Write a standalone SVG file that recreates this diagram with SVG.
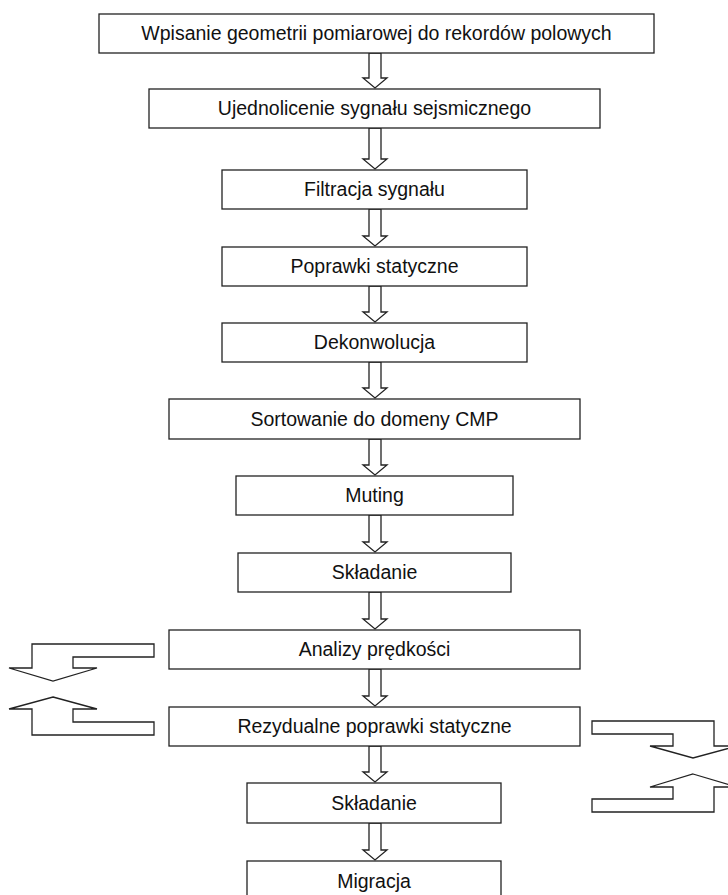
<svg xmlns="http://www.w3.org/2000/svg" width="728" height="895" viewBox="0 0 728 895">
<style>
.box{fill:#fff;stroke:#222;stroke-width:1.3}
.arr{fill:#fff;stroke:#222;stroke-width:1.3;stroke-linejoin:miter}
.t{font-family:"Liberation Sans",Arial,sans-serif;font-size:19.5px;fill:#111;text-anchor:middle}
</style>
<rect width="728" height="895" fill="#fff"/>
<g id="connectors">
<polygon class="arr" points="369,53 381,53 381,78 387,78 375,88 363,78 369,78"/>
<polygon class="arr" points="369,128 381,128 381,159 387,159 375,169 363,159 369,159"/>
<polygon class="arr" points="369,209 381,209 381,236 387,236 375,246 363,236 369,236"/>
<polygon class="arr" points="369,286 381,286 381,312 387,312 375,322 363,312 369,312"/>
<polygon class="arr" points="369,362 381,362 381,388 387,388 375,398 363,388 369,388"/>
<polygon class="arr" points="369,439 381,439 381,465 387,465 375,475 363,465 369,465"/>
<polygon class="arr" points="369,515 381,515 381,542 387,542 375,552 363,542 369,542"/>
<polygon class="arr" points="369,592 381,592 381,619 387,619 375,629 363,619 369,619"/>
<polygon class="arr" points="369,669 381,669 381,696 387,696 375,706 363,696 369,696"/>
<polygon class="arr" points="369,746 381,746 381,772 387,772 375,782 363,772 369,772"/>
<polygon class="arr" points="369,823 381,823 381,850 387,850 375,860 363,850 369,850"/>
<polygon class="arr" points="32,644 154,644 154,657 73,657 73,668 97,668 53,681 9,668 32,668"/>
<polygon class="arr" points="53,697 97,709 73,709 73,722 154,722 154,735 32,735 32,709 9,709"/>
<polygon class="arr" points="592,721 714,721 714,746 737,746 693,758 650,746 673,746 673,734 592,734"/>
<polygon class="arr" points="693,774 737,787 714,787 714,812 592,812 592,799 673,799 673,787 650,787"/>
</g>
<g id="n1"><rect class="box" x="99" y="14" width="555" height="39"/><text class="t" x="376.5" y="40">Wpisanie geometrii pomiarowej do rekordów polowych</text></g>
<g id="n2"><rect class="box" x="149" y="89" width="451" height="39"/><text class="t" x="374.5" y="115">Ujednolicenie sygnału sejsmicznego</text></g>
<g id="n3"><rect class="box" x="222" y="170" width="305" height="39"/><text class="t" x="374.5" y="196">Filtracja sygnału</text></g>
<g id="n4"><rect class="box" x="222" y="247" width="305" height="39"/><text class="t" x="374.5" y="273">Poprawki statyczne</text></g>
<g id="n5"><rect class="box" x="222" y="323" width="305" height="39"/><text class="t" x="374.5" y="349">Dekonwolucja</text></g>
<g id="n6"><rect class="box" x="169" y="399" width="411" height="40"/><text class="t" x="374.5" y="426">Sortowanie do domeny CMP</text></g>
<g id="n7"><rect class="box" x="236" y="476" width="277" height="39"/><text class="t" x="374.5" y="502">Muting</text></g>
<g id="n8"><rect class="box" x="238" y="553" width="273" height="39"/><text class="t" x="374.5" y="579">Składanie</text></g>
<g id="n9"><rect class="box" x="169" y="630" width="411" height="39"/><text class="t" x="374.5" y="656">Analizy prędkości</text></g>
<g id="n10"><rect class="box" x="169" y="707" width="411" height="39"/><text class="t" x="374.5" y="733">Rezydualne poprawki statyczne</text></g>
<g id="n11"><rect class="box" x="247" y="783" width="254" height="40"/><text class="t" x="374" y="810">Składanie</text></g>
<g id="n12"><rect class="box" x="247" y="861" width="254" height="40"/><text class="t" x="374" y="888">Migracja</text></g>
</svg>
